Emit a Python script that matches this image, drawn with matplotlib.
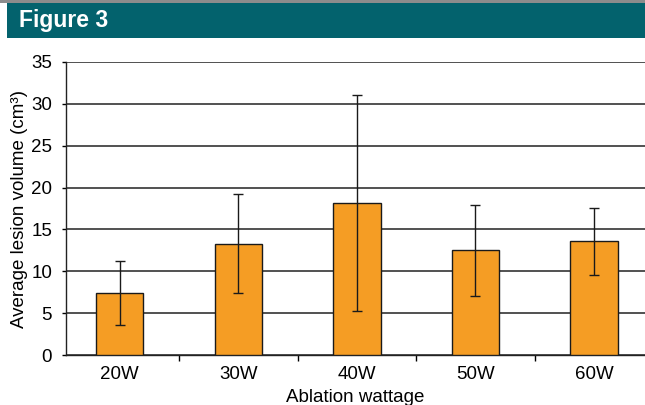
import matplotlib
matplotlib.use("Agg")
import matplotlib.pyplot as plt
from matplotlib.patches import Rectangle

categories = ["20W", "30W", "40W", "50W", "60W"]
mean_volume = [7.4, 13.3, 18.1, 12.5, 13.6]
error = [3.8, 5.9, 12.9, 5.4, 4.0]
y_ticks = [0, 5, 10, 15, 20, 25, 30, 35]

plt.rcParams["font.family"] = ["Liberation Sans", "DejaVu Sans"]

fig = plt.figure(figsize=(6.45, 4.05), dpi=100)

# header band
fig.patches.append(Rectangle((0, 1 - 2.5 / 405), 1, 2.5 / 405, transform=fig.transFigure,
                             facecolor="#8c8c8c", edgecolor="none", zorder=0))
fig.patches.append(Rectangle((7 / 645, 1 - 38 / 405), 1 - 7 / 645, 35 / 405, transform=fig.transFigure,
                             facecolor="#03626d", edgecolor="none", zorder=0))
fig.text(19 / 645, 1 - 21 / 405, "Figure 3", color="white", fontsize=16.5, fontweight="bold",
         va="center", ha="left")

ax = fig.add_axes([66 / 645, 1 - 355 / 405, 1 - 66 / 645, (355 - 62) / 405])

x = list(range(len(categories)))
ax.bar(x, mean_volume, width=0.4, color="#f59d24", edgecolor="#1a1a1a", linewidth=1.0, zorder=3)
ax.errorbar(x, mean_volume, yerr=error, fmt="none", ecolor="#1a1a1a", elinewidth=1.0,
            capsize=3.5, capthick=1.0, zorder=4)

ax.set_ylim(0, 35)
ax.set_xlim(-0.453, 4.43)
ax.set_yticks(y_ticks)
ax.yaxis.grid(True, color="#222222", linewidth=1.1, zorder=0)
ax.set_axisbelow(True)

ax.set_xticks(x)
ax.set_xticklabels(categories)
ax.set_xticks([0.5, 1.5, 2.5, 3.5], minor=True)
ax.tick_params(axis="x", which="major", length=0, pad=8, labelsize=13.5)
ax.tick_params(axis="x", which="minor", length=4, width=1, direction="out")
ax.tick_params(axis="y", length=3, width=1, pad=7, labelsize=13.5)

for side in ["top", "right"]:
    ax.spines[side].set_visible(False)
for side in ["left", "bottom"]:
    ax.spines[side].set_color("#222222")
    ax.spines[side].set_linewidth(1.0)

ax.set_ylabel("Average lesion volume (cm³)", fontsize=13.5, labelpad=2)
ax.set_xlabel("Ablation wattage", fontsize=13.5, labelpad=4)

fig.savefig("out.png", dpi=100)
